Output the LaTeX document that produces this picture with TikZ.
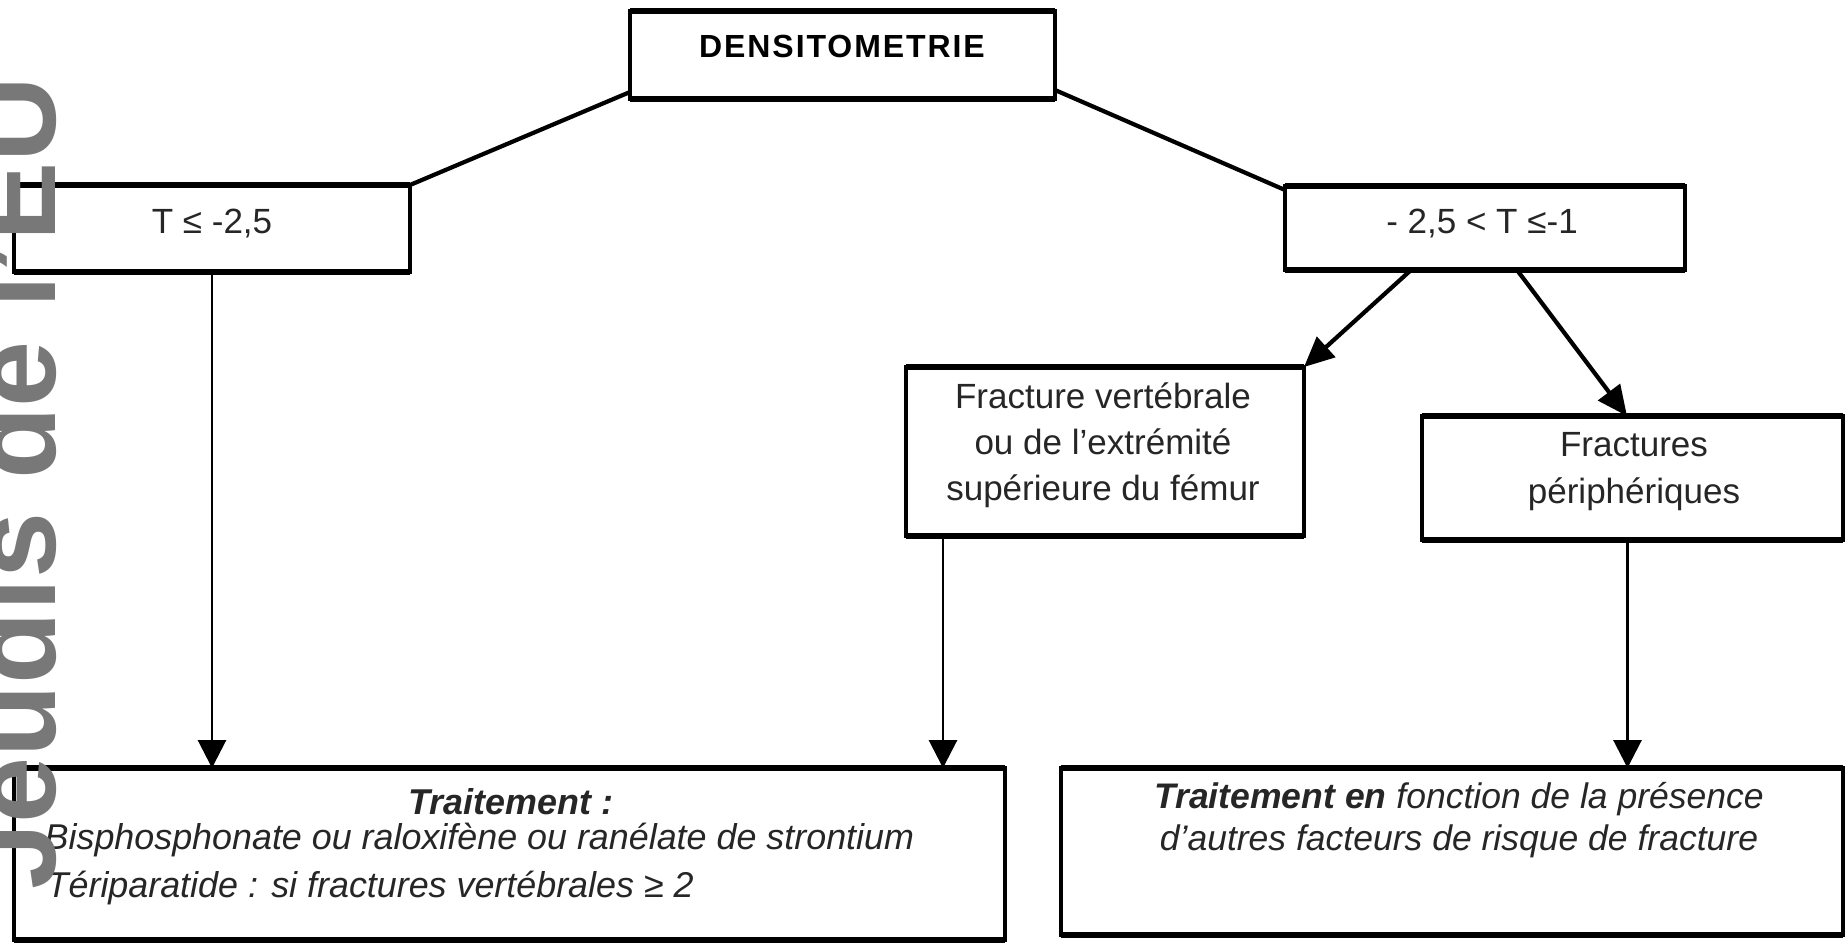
\documentclass[tikz,border=0pt]{standalone}
\usepackage{fontspec}
\setmainfont{Liberation Sans}
\newfontfamily\headfont{Liberation Sans}[LetterSpace=6]
\usetikzlibrary{arrows.meta,calc,fit}
\definecolor{wmgray}{RGB}{120,120,120}
\definecolor{ink}{RGB}{38,38,38}

\begin{document}
\begin{tikzpicture}[x=0.01cm,y=-0.01cm,
  box/.style={draw=black, line width=1.14pt, inner sep=0pt, outer sep=0pt},
  hedge/.style={line width=1.6pt},
  txt/.style={inner sep=0pt, text=ink, font=\fontsize{9.96}{13.1}\selectfont, align=center},
  link/.style={line width=1.2pt},
  down/.style={line width=0.85pt, -{Triangle[length=0.28cm,width=0.28cm]}},
  branch/.style={line width=1.2pt, -{Triangle[length=0.30cm,width=0.27cm]}},
  wmark/.style={inner sep=0pt, text=wmgray, font=\fontsize{33.8}{38}\selectfont\bfseries}
]
\useasboundingbox (0,0) rectangle (1847,944);
\fill[white] (0,0) rectangle (1847,944);

% frames
\node[box, fit={(630,11) (1055,99)}] (dens) {};
\node[box, fit={(14,185) (410,272)}] (tle) {};
\node[box, fit={(1285,186) (1685,270)}] (mid) {};
\node[box, fit={(906,367) (1304,536)}] (vert) {};
\node[box, fit={(1422,416) (1843,540)}] (peri) {};
\node[box, fit={(14,768) (1005,940)}] (trtL) {};
\node[box, fit={(1061,768) (1843,935)}] (trtR) {};

% heavier horizontal edges of the frames
\foreach \n in {dens,tle,mid,vert,peri,trtL,trtR}
  \draw[hedge] (\n.north west) -- (\n.north east) (\n.south west) -- (\n.south east);

% labels
\node[txt, text=black, font=\fontsize{9.1}{11}\headfont\bfseries] (densT) at (842,46) {DENSITOMETRIE};
\node[txt] (tleT) at (212,223) {T ≤ -2,5};
\node[txt] (midT) at (1482,223) {- 2,5 < T ≤-1};
\node[txt] (vertT) at (1103,445) {Fracture vertébrale\\ou de l’extrémité\\supérieure du fémur};
\node[txt, font=\fontsize{9.96}{13.4}\selectfont] (periT) at (1634,472) {Fractures\\périphériques};
\node[txt, font=\fontsize{10.2}{12}\selectfont\bfseries\itshape] (tlH) at (511,802) {Traitement :};
\node[txt, font=\fontsize{10.2}{12}\selectfont\itshape, anchor=west] (tl1) at (44,840) {Bisphosphonate ou raloxifène ou ranélate de strontium};
\node[txt, font=\fontsize{10.2}{12}\selectfont\itshape, anchor=west] (tl2) at (46,888) {Tériparatide : si fractures vertébrales ≥ 2};
\node[txt, font=\fontsize{10.1}{11.95}\selectfont\itshape] (trT) at (1459,820) {\textbf{Traitement en} fonction de la présence\\d’autres facteurs de risque de fracture};

% connectors
\draw[link] ($(dens.south west)+(0,-7)$) -- (tle.north east);
\draw[link] ($(dens.south east)+(0,-9)$) -- ($(mid.north west)+(0,4)$);
\coordinate (vs) at ($(vert.south west)+(37,0)$);
\coordinate (ps) at ($(peri.south)+(-5,0)$);
\draw[down] (tle.south) -- (tle.south |- trtL.north);
\draw[down] (vs) -- (vs |- trtL.north);
\draw[down] (ps) -- (ps |- trtR.north);
\draw[branch] ($(mid.south west)+(126,0)$) -- (vert.north east);
\draw[branch] ($(mid.south west)+(232,0)$) -- ($(peri.north west)+(205,0)$);

% vertical watermark along the left edge
\begin{scope}
  \clip (0,0) rectangle (1847,944);
  \node[wmark, rotate=90, anchor=base west] (wm) at (55,890) {Jeudis de l’EU};
\end{scope}
\end{tikzpicture}
\end{document}
